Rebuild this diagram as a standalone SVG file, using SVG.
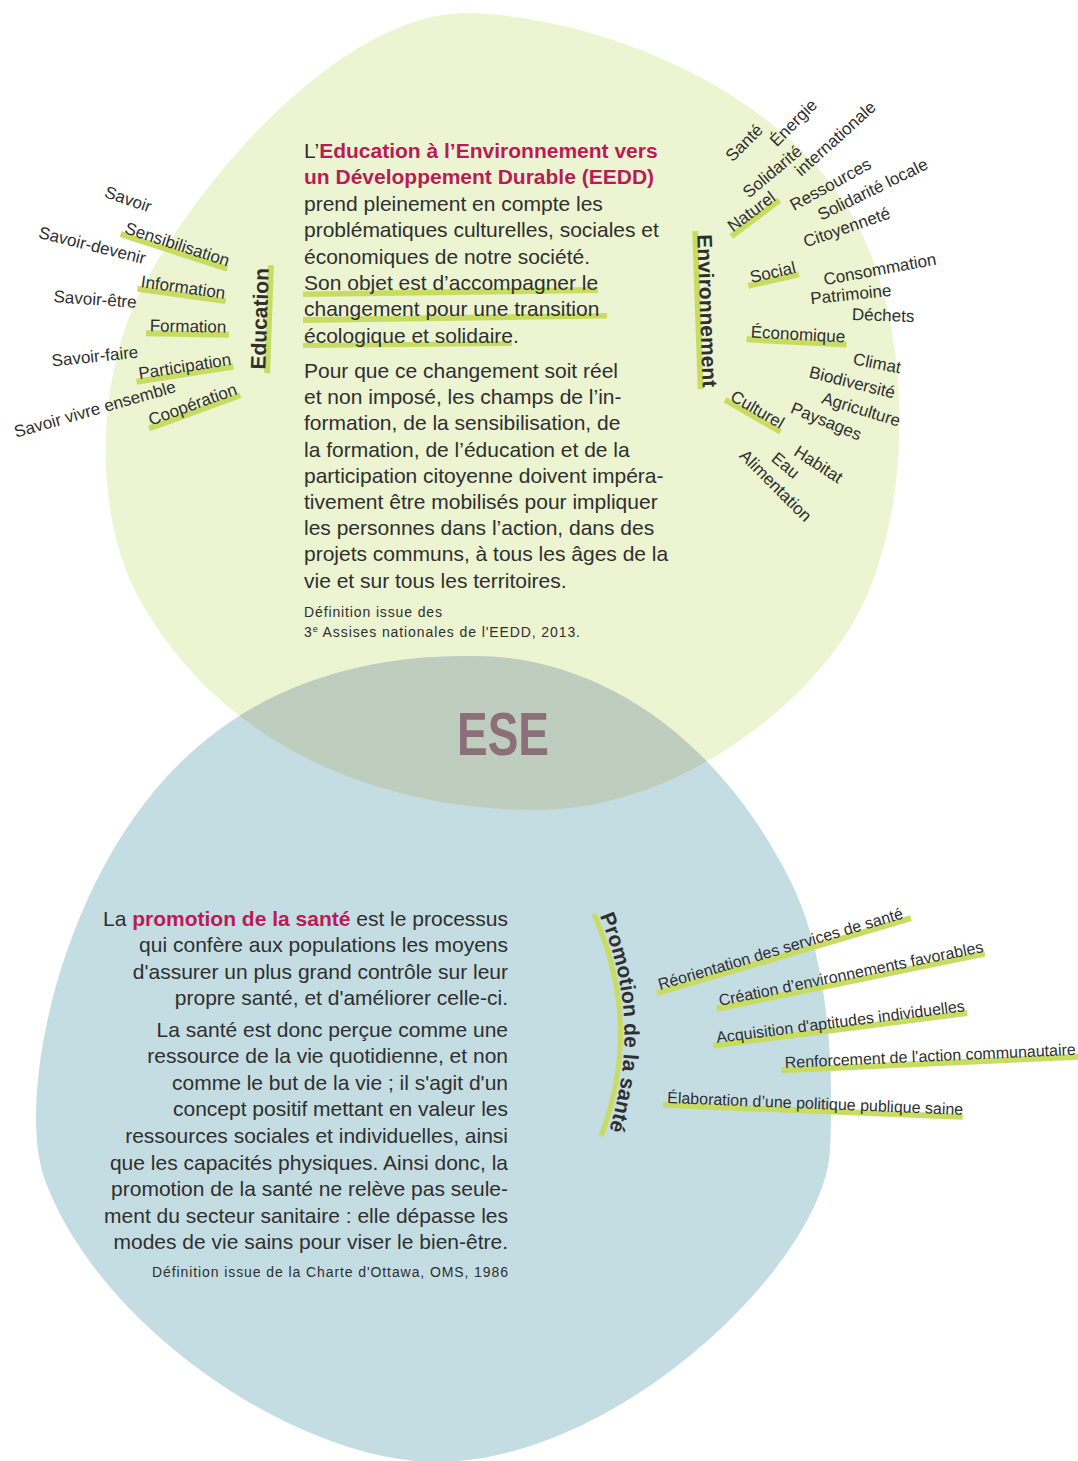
<svg xmlns="http://www.w3.org/2000/svg" width="1078" height="1461" viewBox="0 0 1078 1461">
<style>
.t{font-family:"Liberation Sans",Arial,sans-serif;fill:#2f2f2f}
.body{font-size:21px}
.w{font-size:17px}
.bw{font-size:21px;font-weight:bold}
.hl{fill:#b81c57;font-weight:bold}
.src{font-size:14px}
.bar{fill:#c8dc64}
</style>
<defs>
<path id="greenShape" d="M 472 13 C 600 18, 790 90, 860 230 C 910 330, 915 500, 860 610 C 815 700, 680 810, 536 810 C 400 810, 230 760, 140 600 C 95 520, 98 400, 128 320 C 166 220, 330 8, 472 13 Z"/>
<path id="blueShape" d="M 468 656 C 600 654, 720 740, 790 880 C 825 950, 835 1050, 830 1150 C 825 1260, 620 1462, 436 1462 C 300 1462, 100 1330, 45 1180 C 15 1100, 60 880, 180 763 C 260 685, 360 656, 468 656 Z"/>
<clipPath id="greenClip"><use href="#greenShape"/></clipPath>
<path id="promoPath" d="M 598 912 Q 647 1025 605 1142"/>
</defs>
<rect width="1078" height="1461" fill="#ffffff"/>
<g id="eedd-blob"><use href="#greenShape" fill="#ecf4d1"/></g>
<g id="sante-blob"><use href="#blueShape" fill="#c4dde2"/></g>
<g id="overlap"><use href="#blueShape" fill="#bfcdbf" clip-path="url(#greenClip)"/></g>
<g id="ese-label"><text x="503" y="755" text-anchor="middle" font-family="'Liberation Sans',Arial,sans-serif" font-size="62" font-weight="bold" textLength="92" lengthAdjust="spacingAndGlyphs" fill="#8b707a">ESE</text></g>

<g id="eedd-text" class="t body">
<polygon class="bar" points="303,291.5 598,287 598,293 303,297"/>
<polygon class="bar" points="303,317 607,313 607,318.5 303,323"/>
<polygon class="bar" points="303,343 512,341 512,346 303,348"/>
<text x="304" y="158">L’<tspan class="hl">Education à l’Environnement vers</tspan></text>
<text x="304" y="184.4" class="hl">un Développement Durable (EEDD)</text>
<text x="304" y="210.8">prend pleinement en compte les</text>
<text x="304" y="237.2">problématiques culturelles, sociales et</text>
<text x="304" y="263.6">économiques de notre société.</text>
<text x="304" y="290">Son objet est d’accompagner le</text>
<text x="304" y="316.4">changement pour une transition</text>
<text x="304" y="342.8">écologique et solidaire.</text>
<text x="304" y="378">Pour que ce changement soit réel</text>
<text x="304" y="404.2">et non imposé, les champs de l’in-</text>
<text x="304" y="430.4">formation, de la sensibilisation, de</text>
<text x="304" y="456.6">la formation, de l’éducation et de la</text>
<text x="304" y="482.8">participation citoyenne doivent impéra-</text>
<text x="304" y="509">tivement être mobilisés pour impliquer</text>
<text x="304" y="535.2">les personnes dans l’action, dans des</text>
<text x="304" y="561.4">projets communs, à tous les âges de la</text>
<text x="304" y="587.6">vie et sur tous les territoires.</text>
<text x="304" y="617" class="src" textLength="138" lengthAdjust="spacing">Définition issue des</text>
<text x="304" y="637" class="src" textLength="276" lengthAdjust="spacing">3<tspan font-size="9" baseline-shift="super">e</tspan> Assises nationales de l'EEDD, 2013.</text>
</g>

<g id="education-branch" class="t w" text-anchor="middle">
<g transform="translate(267,319) rotate(-88)"><rect class="bar" x="-54" y="-1" width="108" height="6"/><text class="bw">Education</text></g>
<g transform="translate(126.4,204.7) rotate(19)"><text>Savoir</text></g>
<g transform="translate(175.5,249.8) rotate(18)"><rect class="bar" x="-57" y="-1" width="112" height="6"/><text>Sensibilisation</text></g>
<g transform="translate(90.8,250.9) rotate(14)"><text>Savoir-devenir</text></g>
<g transform="translate(182.3,293) rotate(8)"><rect class="bar" x="-45" y="-1" width="89" height="6"/><text>Information</text></g>
<g transform="translate(94.7,305) rotate(4)"><text>Savoir-être</text></g>
<g transform="translate(188,332) rotate(1)"><rect class="bar" x="-42" y="-1" width="83" height="6"/><text>Formation</text></g>
<g transform="translate(95.5,362) rotate(-6)"><text>Savoir-faire</text></g>
<g transform="translate(185.6,372) rotate(-9)"><rect class="bar" x="-50" y="-1" width="98" height="6"/><text>Participation</text></g>
<g transform="translate(96.4,414.8) rotate(-16)"><text>Savoir vivre ensemble</text></g>
<g transform="translate(194.5,409.8) rotate(-20)"><rect class="bar" x="-49" y="-1" width="97" height="6"/><text>Coopération</text></g>
</g>

<g id="environnement-branch" class="t w" text-anchor="middle">
<g transform="translate(700,311) rotate(88)"><rect class="bar" x="-80" y="-1" width="158" height="6"/><text class="bw" font-size="22">Environnement</text></g>
<g transform="translate(748.3,146.7) rotate(-45)"><text>Santé</text></g>
<g transform="translate(797.4,126.7) rotate(-45)"><text>Énergie</text></g>
<g transform="translate(776,176) rotate(-40)"><text>Solidarité</text></g>
<g transform="translate(839.2,142.8) rotate(-42)"><text>internationale</text></g>
<g transform="translate(754.9,216.1) rotate(-37)"><rect class="bar" x="-31" y="-1" width="60" height="6"/><text>Naturel</text></g>
<g transform="translate(833.3,189.4) rotate(-29)"><text>Ressources</text></g>
<g transform="translate(875.2,194.5) rotate(-26)"><text>Solidarité locale</text></g>
<g transform="translate(848.6,232.7) rotate(-19)"><text>Citoyenneté</text></g>
<g transform="translate(774.1,277.9) rotate(-13)"><rect class="bar" x="-27" y="-1" width="52" height="6"/><text>Social</text></g>
<g transform="translate(880.9,274.9) rotate(-10.5)"><text>Consommation</text></g>
<g transform="translate(851.5,300) rotate(-6)"><text>Patrimoine</text></g>
<g transform="translate(883,321) rotate(2)"><text>Déchets</text></g>
<g transform="translate(797.7,340) rotate(3)"><rect class="bar" x="-51" y="-1" width="100" height="6"/><text>Économique</text></g>
<g transform="translate(876,368.9) rotate(11)"><text>Climat</text></g>
<g transform="translate(850.9,387.9) rotate(14)"><text>Biodiversité</text></g>
<g transform="translate(859.5,414.8) rotate(17)"><text>Agriculture</text></g>
<g transform="translate(824.1,426.6) rotate(22)"><text>Paysages</text></g>
<g transform="translate(754.7,414.5) rotate(30)"><rect class="bar" x="-33" y="-1" width="64" height="6"/><text>Culturel</text></g>
<g transform="translate(815.3,469.2) rotate(33)"><text>Habitat</text></g>
<g transform="translate(781.8,469.8) rotate(40)"><text>Eau</text></g>
<g transform="translate(771.6,489.7) rotate(45)"><text>Alimentation</text></g>
</g>

<g id="promotion-branch" class="t">
<path d="M 594 914 Q 643 1025 601 1136" fill="none" stroke="#c8dc64" stroke-width="5"/>
<text class="bw"><textPath href="#promoPath" startOffset="4">Promotion de la santé</textPath></text>
<g font-size="16">
<g transform="translate(660,990) rotate(-16.4)"><rect class="bar" x="-4" y="-1" width="265" height="6"/><text>Réorientation des services de santé</text></g>
<g transform="translate(720,1006) rotate(-11.6)"><rect class="bar" x="-4" y="-1" width="274" height="6"/><text>Création d’environnements favorables</text></g>
<g transform="translate(717,1043) rotate(-7.3)"><rect class="bar" x="-4" y="-1" width="256" height="6"/><text>Acquisition d'aptitudes individuelles</text></g>
<g transform="translate(785,1068) rotate(-2.6)"><rect class="bar" x="-4" y="-1" width="298" height="6"/><text>Renforcement de l'action communautaire</text></g>
<g transform="translate(667,1103) rotate(2.3)"><rect class="bar" x="-4" y="-1" width="300" height="6"/><text>Élaboration d’une politique publique saine</text></g>
</g>
</g>

<g id="sante-text" class="t body" text-anchor="end">
<text x="508" y="925.5">La <tspan class="hl">promotion de la santé</tspan> est le processus</text>
<text x="508" y="952.1">qui confère aux populations les moyens</text>
<text x="508" y="978.7">d'assurer un plus grand contrôle sur leur</text>
<text x="508" y="1005.3">propre santé, et d'améliorer celle-ci.</text>
<text x="508" y="1036.5">La santé est donc perçue comme une</text>
<text x="508" y="1063.1">ressource de la vie quotidienne, et non</text>
<text x="508" y="1089.7">comme le but de la vie ; il s'agit d'un</text>
<text x="508" y="1116.3">concept positif mettant en valeur les</text>
<text x="508" y="1142.9">ressources sociales et individuelles, ainsi</text>
<text x="508" y="1169.5">que les capacités physiques. Ainsi donc, la</text>
<text x="508" y="1196.1">promotion de la santé ne relève pas seule-</text>
<text x="508" y="1222.7">ment du secteur sanitaire : elle dépasse les</text>
<text x="508" y="1249.3">modes de vie sains pour viser le bien-être.</text>
<text x="508" y="1277" class="src" textLength="356" lengthAdjust="spacing">Définition issue de la Charte d'Ottawa, OMS, 1986</text>
</g>
</svg>
